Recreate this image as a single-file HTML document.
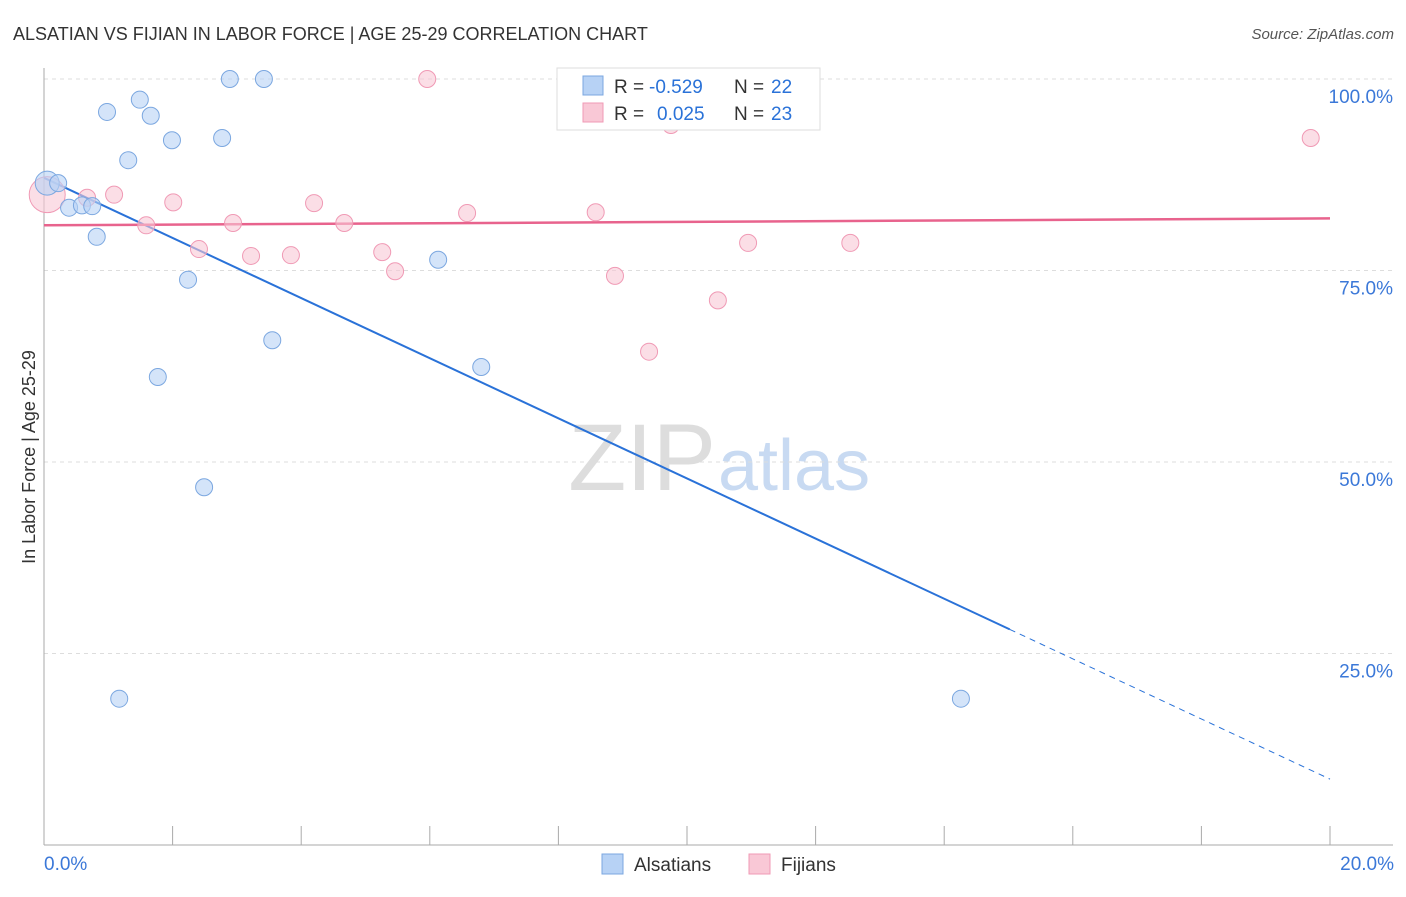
<!DOCTYPE html>
<html><head><meta charset="utf-8"><style>
body{margin:0;background:#fff;font-family:"Liberation Sans",sans-serif;}
svg text{font-family:"Liberation Sans",sans-serif;}
</style></head><body>
<svg id="chart" width="1406" height="892">
<text x="13" y="40" font-size="18" fill="#333">ALSATIAN VS FIJIAN IN LABOR FORCE | AGE 25-29 CORRELATION CHART</text>
<text x="1394" y="39" font-size="15" fill="#555" text-anchor="end" font-style="italic">Source: ZipAtlas.com</text>
<text x="35" y="457" font-size="18" fill="#333" text-anchor="middle" transform="rotate(-90 35 457)">In Labor Force | Age 25-29</text>
<text x="716" y="490" font-size="95" fill="#ddd" text-anchor="end" font-family="Liberation Serif">ZIP</text>
<text x="718" y="490" font-size="72" fill="#c8daf2">atlas</text>
<g id="grid"></g><g id="axes"></g><g id="lines"></g><g id="pts"></g>
<g>
<rect x="557" y="68" width="263" height="62" fill="#fff" stroke="#ddd"/>
<rect x="583" y="76" width="20" height="19" fill="#b7d2f5" stroke="#7ba7e0"/>
<text x="614" y="93" font-size="19" fill="#333">R =</text>
<text x="649" y="93" font-size="19" fill="#2a72d8">-0.529</text>
<text x="734" y="93" font-size="19" fill="#333">N =</text>
<text x="771" y="93" font-size="19" fill="#2a72d8">22</text>
<rect x="583" y="103" width="20" height="19" fill="#f9c8d6" stroke="#f09ab5"/>
<text x="614" y="120" font-size="19" fill="#333">R =</text>
<text x="657" y="120" font-size="19" fill="#2a72d8">0.025</text>
<text x="734" y="120" font-size="19" fill="#333">N =</text>
<text x="771" y="120" font-size="19" fill="#2a72d8">23</text>
</g>
<g>
<rect x="602" y="854" width="21" height="20" fill="#b7d2f5" stroke="#7ba7e0"/>
<text x="634" y="871" font-size="19" fill="#333">Alsatians</text>
<rect x="749" y="854" width="21" height="20" fill="#f9c8d6" stroke="#f09ab5"/>
<text x="781" y="871" font-size="19" fill="#333">Fijians</text>
</g>
</svg>
<script>
const yTicks=[100,75,50,25];
const xTickLabels=["0.0%","20.0%"];
const blueX=[0.05,0.22,0.39,0.59,0.75,0.82,0.98,1.17,1.31,1.49,1.66,1.77,1.99,2.24,2.49,2.77,2.89,3.42,3.55,6.13,6.80,14.26];
const blueY=[86.4,86.4,83.2,83.5,83.4,79.4,95.7,19.1,89.4,97.3,95.2,61.1,92.0,73.8,46.7,92.3,100,100,65.9,76.4,62.4,19.1];
const pinkX=[0.05,0.67,1.09,1.59,2.01,2.41,2.94,3.22,3.84,4.20,4.67,5.26,5.46,5.96,6.58,8.58,8.88,9.41,9.75,10.48,10.95,12.54,19.70];
const pinkY=[84.9,84.5,84.9,80.9,83.9,77.8,81.2,76.9,77.0,83.8,81.2,77.4,74.9,100,82.5,82.6,74.3,64.4,94.0,71.1,78.6,78.6,92.3];
const blueTrend=[87.1,8.6];
const pinkTrend=[80.9,81.8];
const NS="http://www.w3.org/2000/svg";
const X=v=>44+v*64.3, Y=v=>845-v*7.66;
function mk(t,a,p){const e=document.createElementNS(NS,t);for(const k in a)e.setAttribute(k,a[k]);document.getElementById(p).appendChild(e);return e;}
yTicks.forEach(t=>{
 const l=mk('line',{x1:44,x2:1393,y1:Y(t),y2:Y(t),stroke:'#ddd','stroke-dasharray':'4,4'},'grid');
 
 
 const tx=mk('text',{x:1393,y:Y(t)+24,'font-size':19,fill:'#3b78d8','text-anchor':'end'},'axes');
 tx.textContent=t.toFixed(1)+'%';
 
 
});
mk('line',{x1:44,x2:44,y1:68,y2:845,stroke:'#aaa'},'axes');
mk('line',{x1:44,x2:1393,y1:845,y2:845,stroke:'#aaa'},'axes');
for(let i=0;i<=10;i++){mk('line',{x1:X(i*2),x2:X(i*2),y1:826,y2:845,stroke:'#aaa'},'axes');}
[[0,'start',44],[1,'end',1394]].forEach(([i,a,x])=>{
 const t=mk('text',{x:x,y:870,'font-size':19,fill:'#3b78d8','text-anchor':a},'axes');
 t.textContent=xTickLabels[i];
 
 
});
const bAt=x=>blueTrend[0]+(blueTrend[1]-blueTrend[0])*x/20;
const bl=mk('line',{x1:X(0),y1:Y(bAt(0)),x2:X(15.02),y2:Y(bAt(15.02)),stroke:'#2a72d8','stroke-width':2},'lines');


mk('line',{x1:X(15.02),y1:Y(bAt(15.02)),x2:X(20),y2:Y(bAt(20)),stroke:'#2a72d8','stroke-width':1,'stroke-dasharray':'6,5'},'lines');
const pl=mk('line',{x1:X(0),y1:Y(pinkTrend[0]),x2:X(20),y2:Y(pinkTrend[1]),stroke:'#e8638d','stroke-width':2.5},'lines');


function pts(xs,ys,fill,stroke,name){
 xs.forEach((x,i)=>{
  const r=i===0?(name==='fijian-point'?18:12):8.5;
  const c=mk('circle',{cx:X(x),cy:Y(ys[i]),r:r,fill:fill,stroke:stroke,'fill-opacity':0.6},'pts');
  
  
 });
}
pts(pinkX,pinkY,'#f9c8d6','#f09ab5','fijian-point');
pts(blueX,blueY,'#b7d2f5','#7ba7e0','alsatian-point');
</script>
</body></html>
